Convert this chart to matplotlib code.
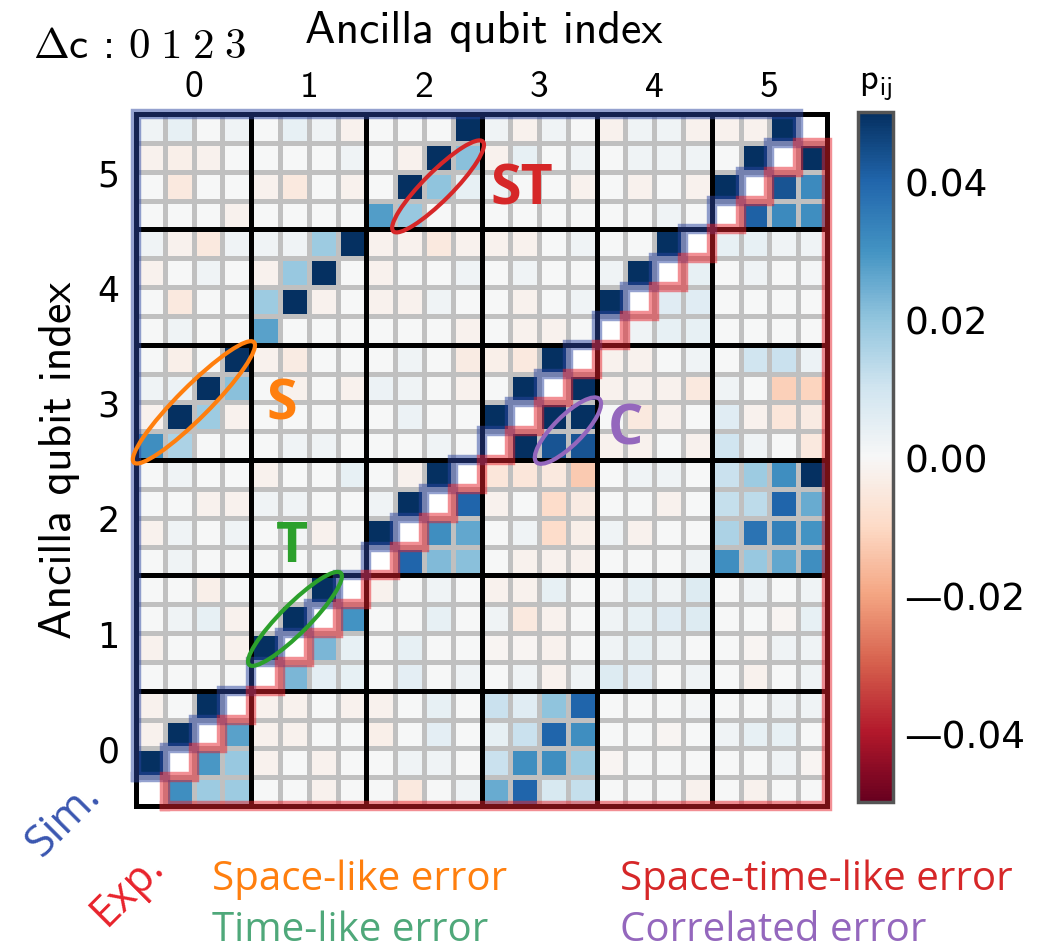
import numpy as np
import matplotlib
matplotlib.use("Agg")
import matplotlib.pyplot as plt
from matplotlib.patches import Ellipse

plt.rcParams['mathtext.fontset'] = 'cm'

n_anc = 6
n_dc = 4
anc_labels = ['0', '1', '2', '3', '4', '5']
dc_labels = ['0', '1', '2', '3']

# p_ij in units of 1e-3, rows from the top of the map (ancilla 5) down to ancilla 0
# upper-left triangle = simulation, lower-right = experiment, diagonal left empty
X = np.nan
p_rows = [
    [2, 4, 0, 2,    0, 4, 2, -2,    0, 0, 0, 55,    2, -2, 2, 0,    -2, 2, 2, -2,   -2, -2, 55, X],
    [-2, -3, -2, 0, 0, 0, 0, 2,     0, -2, 55, 21,  -2, 4, 0, 2,    0, 2, 2, 2,     0, 55, X, 55],
    [0, -5, 0, 0,   -2, -5, 0, -2,  0, 55, 20, 4,   2, 0, 0, -2,    0, -2, 0, -2,   55, X, 43, 32],
    [0, 0, 0, -2,   0, 0, 0, 0,     28, 19, 0, 0,   0, 0, 0, 0,     0, 0, 2, 0,     X, 41, 32, 31],
    [2, -2, -5, 2,  2, 2, 18, 55,   -2, -2, -5, -2, -2, -2, 0, 2,   0, 0, 55, X,    4, 4, 2, 2],
    [-2, 0, 2, 0,   -2, 19, 55, 0,  -2, 0, 0, 2,    0, 2, 0, 0,     2, 55, X, 4,    0, 2, 0, 1],
    [0, -5, 0, 0,   18, 55, -2, 0,  -2, -2, 2, 0,   0, -2, 0, 2,    55, X, 6, 6,    0, 0, 0, 0],
    [0, 2, 0, 0,    27, 0, 0, 0,    0, 0, 0, -2,    0, -2, -2, 0,   X, 2, 4, 4,     0, 0, 0, 0],
    [0, -3, 0, 55,  -2, -4, 0, 0,   0, 2, 0, -4,    -3, -5, 55, X,  -2, -2, 0, 2,   0, 10, 11, 3],
    [2, 3, 55, 21,  0, -2, 0, -2,   3, 2, 0, -2,    0, 55, X, 55,   -2, -2, -2, -5, 2, 0, -12, -11],
    [-2, 55, 18, -2, 0, 0, 0, 0,    0, 3, 0, 0,     55, X, 55, 55,  0, -5, -2, 0,   6, -2, -6, -4],
    [31, 16, 0, 0,  0, 2, 2, 0,     0, 0, 2, 0,     X, 55, 43, 43,  -2, -2, 0, -2,  10, 2, 0, -5],
    [0, 2, 0, 0,    -2, 0, 0, 4,    0, -2, 55, X,   -6, -6, -5, -13, 0, 2, 2, 0,    11, 18, 31, 55],
    [0, 0, -2, -2,  2, 2, 0, 0,     2, 55, X, 40,   -2, 0, -9, -4,  0, 0, -2, 0,    12, 13, 40, 25],
    [-2, 2, 0, 2,   0, 1, -2, 0,    55, X, 31, 26,  0, 2, -9, -3,   2, -2, 0, 0,    16, 37, 34, 30],
    [0, 2, 0, 0,    0, 0, 0, 0,     X, 40, 22, 21,  0, -2, -2, -2,  0, 0, 0, 2,     31, 19, 26, 31],
    [0, 0, -3, 0,   0, 0, 55, X,    -2, 0, 2, 0,    -2, -2, 4, 0,   1, 4, 2, 7,     0, 2, 0, 2],
    [0, 2, 4, -2,   0, 55, X, 30,   0, 0, 4, 0,     2, -5, -2, 0,   2, 4, 6, 7,     0, 0, -1, 4],
    [-2, 0, 0, -2,  55, X, 23, 4,   0, 4, 0, 0,     -1, -1, -2, 0,  2, 4, 2, 0,     0, -1, 2, 2],
    [0, 0, 0, 0,    X, 23, 5, 4,    0, 5, 0, 2,     0, 2, -2, 2,    7, 5, 0, 2,     0, -2, 0, 2],
    [-2, 0, 55, X,  -2, -2, 0, -2,  -2, 0, 4, 0,    11, 6, 20, 40,  0, 0, 0, 1,     0, 0, 2, 2],
    [-2, 55, X, 27, -2, -2, 0, 0,   -3, 0, 5, 0,    4, 11, 40, 31,  0, 0, -1, 0,    2, 4, 4, 0],
    [55, X, 29, 19, -2, 0, -2, 0,   0, 2, 2, 0,     11, 31, 31, 18, -1, 0, 0, 0,    0, 0, 2, -1],
    [X, 31, 18, 18, 0, 0, -2, 0,    0, -5, 0, 2,    25, 40, 8, 12,  0, 0, 0, -2,    0, -2, 0, 0],
]

# flip so that row 0 sits at the bottom (ancilla 0, dc 0)
pij = np.array(p_rows, dtype=float)[::-1] * 1e-3
N = n_anc * n_dc

fig = plt.figure(figsize=(10.53, 9.53), dpi=100)
ax = fig.add_axes([0.1292, 0.1532, 0.6562, 0.7261])

cmap = plt.get_cmap('RdBu').copy()
cmap.set_bad('white')
mesh = ax.pcolormesh(np.arange(N + 1), np.arange(N + 1), np.ma.masked_invalid(pij),
                     cmap=cmap, vmin=-0.05, vmax=0.05,
                     edgecolors='#c0c0c0', linewidth=3.6)

# thick black lines between ancilla blocks
for k in range(n_dc, N, n_dc):
    ax.axhline(k, color='black', lw=3.6, zorder=3)
    ax.axvline(k, color='black', lw=3.6, zorder=3)
for s in ax.spines.values():
    s.set_linewidth(3.6)
    s.set_color('black')
    s.set_zorder(4)

ax.set_xlim(0, N)
ax.set_ylim(0, N)

centers = [n_dc * a + n_dc / 2 for a in range(n_anc)]
ax.xaxis.tick_top()
ax.set_xticks(centers)
ax.set_xticklabels(anc_labels, fontfamily='cmss10', fontsize=27)
ax.set_yticks(centers)
ax.set_yticklabels(anc_labels, fontfamily='DejaVu Sans', fontsize=25)
ax.tick_params(length=0)
ax.tick_params(axis='x', pad=8)
ax.tick_params(axis='y', pad=12)

# staircase outlines: simulation (upper-left) and experiment (lower-right)
sim_pts = [(0, 1), (0, N), (N - 1, N)]
exp_pts = [(1, 0), (N, 0), (N, N - 1)]
for k in range(N - 1, 0, -1):
    sim_pts += [(k, k), (k - 1, k)]
    exp_pts += [(k, k), (k, k - 1)]
sx, sy = zip(*sim_pts)
ex, ey = zip(*exp_pts)
ax.plot(sx, sy, color='#2a44a0', alpha=0.5, lw=7.5, clip_on=False, zorder=6,
        solid_joinstyle='miter', solid_capstyle='projecting')
ax.plot(ex, ey, color='#e6202a', alpha=0.5, lw=7.5, clip_on=False, zorder=6,
        solid_joinstyle='miter', solid_capstyle='projecting')

# marked error types
marks = [
    ('ST', '#d62728', (10.49, 21.49), 4.4, 1.0, (13.4, 21.4)),
    ('S', '#ff7f0e', (2.01, 14.0), 5.9, 1.1, (5.07, 13.96)),
    ('T', '#2ca02c', (5.52, 6.49), 4.5, 1.0, (5.42, 8.99)),
    ('C', '#9467bd', (15.0, 13.02), 3.1, 1.0, (17.0, 13.09)),
]
for label, col, cxy, w, h, txy in marks:
    ax.add_patch(Ellipse(cxy, w, h, angle=45, fill=False, edgecolor=col,
                         lw=3, zorder=7, clip_on=False))
    ax.text(txy[0], txy[1], label, color=col, fontsize=40, fontweight='bold',
            fontfamily='Open Sans', ha='center', va='center', zorder=8)

fig.text(484 / 1053, 1 - 32 / 953, 'Ancilla qubit index', fontfamily='cmss10',
         fontsize=33, ha='center', va='center')
fig.text(60 / 1053, 1 - 460 / 953, 'Ancilla qubit index', fontfamily='cmss10',
         fontsize=33, ha='center', va='center', rotation=90)
fig.text(33 / 1053, 1 - 47 / 953, r'$\Delta$c : $' + r'\;'.join(dc_labels) + '$',
         fontfamily='cmss10', fontsize=31, ha='left', va='center')

cax = fig.add_axes([0.8148, 0.1574, 0.0332, 0.724])
cb = fig.colorbar(mesh, cax=cax)
cb.outline.set_edgecolor('#555555')
cb.outline.set_linewidth(2.5)
cb_ticks = [-0.04, -0.02, 0.0, 0.02, 0.04]
cb.set_ticks(cb_ticks)
cb.set_ticklabels([('\u2014' if t < 0 else '') + f'{abs(t):.2f}' for t in cb_ticks])
cax.tick_params(length=0, labelsize=27, pad=8)
fig.text(876 / 1053, 1 - 86 / 953, r'$\mathsf{p_{ij}}$', fontsize=26,
         ha='center', va='center')

fig.text(64 / 1053, 1 - 820 / 953, 'Sim.', color='#3a56b0', fontsize=31,
         fontfamily='Open Sans', rotation=45, ha='center', va='center')
fig.text(128 / 1053, 1 - 890 / 953, 'Exp.', color='#e8232c', fontsize=31,
         fontfamily='Open Sans', rotation=45, ha='center', va='center')

legend_items = [
    ('Space-like error', '#ff7f0e', 212, 880),
    ('Time-like error', '#4fa87a', 212, 931),
    ('Space-time-like error', '#d62728', 620, 880),
    ('Correlated error', '#9467bd', 620, 931),
]
for txt, col, px, py in legend_items:
    fig.text(px / 1053, 1 - py / 953, txt, color=col, fontsize=29,
             fontfamily='Open Sans', ha='left', va='center')

fig.savefig('out.png', dpi=100)
